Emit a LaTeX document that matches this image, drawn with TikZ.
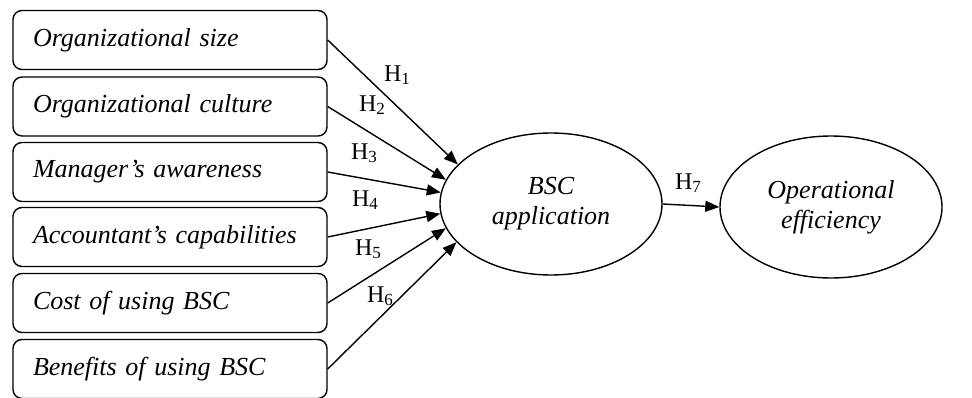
\documentclass[tikz,border=0pt]{standalone}
\usepackage{fontspec}
\setmainfont{Liberation Serif}
\usetikzlibrary{arrows.meta,shapes.geometric}
\newcommand{\hsub}[1]{H\raisebox{-2.5pt}{\fontsize{17}{17}\selectfont #1}}
\begin{document}
\begin{tikzpicture}[x=1pt,y=1pt,
  factor/.style={draw,line width=1.4pt,rounded corners=9pt,minimum width=314pt,minimum height=59pt,
    text width=274pt,inner xsep=20pt,align=left,font=\fontsize{26}{30}\selectfont\itshape},
  construct/.style={draw,ellipse,line width=1.4pt,inner sep=0pt,minimum width=222pt,minimum height=142pt,
    align=center,font=\fontsize{26}{30}\selectfont\itshape},
  hyp/.style={font=\fontsize{24}{26}\selectfont,inner sep=0pt},
  link/.style={line width=1.4pt,-{Triangle[length=14pt,width=11pt]}}]
\useasboundingbox (0,0) rectangle (972,397);
\node[factor] (f1) at (170,357) {Organizational size};
\node[factor] (f2) at (170,290.5) {Organizational culture};
\node[factor] (f3) at (170,225) {Manager\char39\relax s awareness};
\node[factor] (f4) at (170,160) {Accountant’s capabilities};
\node[factor] (f5) at (170,94) {Cost of using BSC};
\node[factor] (f6) at (170,28) {Benefits of using BSC};
\node[construct] (bsc) at (551,193) {BSC\\application};
\node[construct] (oe) at (831,190) {Operational\\efficiency};
\draw[link] (f1.east) -- (bsc.157);
\draw[link] (f2.east) -- (bsc.167);
\draw[link] (f3.east) -- (bsc.174);
\draw[link] (f4.east) -- (bsc.185);
\draw[link] (f5.east) -- (bsc.193);
\draw[link] (f6.east) -- (bsc.202);
\draw[link] (bsc.east) -- (oe.west);
\node[hyp] (h1) at (397,322) {\hsub{1}};
\node[hyp] (h2) at (372,292) {\hsub{2}};
\node[hyp] (h3) at (364,244) {\hsub{3}};
\node[hyp] (h4) at (365,197) {\hsub{4}};
\node[hyp] (h5) at (368,148) {\hsub{5}};
\node[hyp] (h6) at (380,101) {\hsub{6}};
\node[hyp] (h7) at (688,214) {\hsub{7}};
\end{tikzpicture}
\end{document}
